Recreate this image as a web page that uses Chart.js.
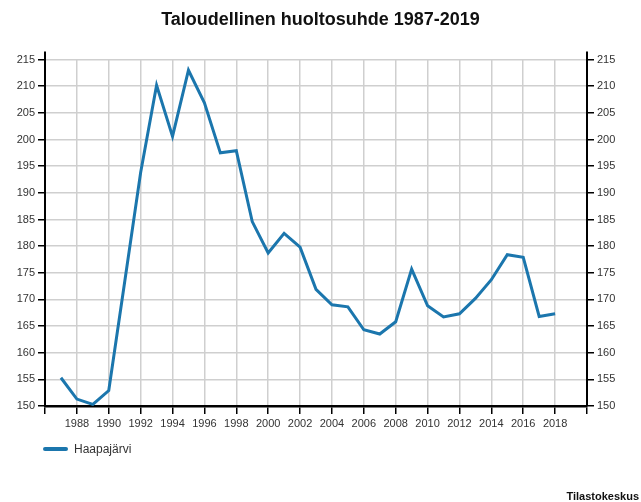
<!DOCTYPE html>
<html lang="fi">
<head>
    <meta charset="UTF-8" />
    <title>Taloudellinen huoltosuhde 1987-2019</title>
    <script src="https://cdn.jsdelivr.net/npm/chart.js@4.4.1/dist/chart.umd.min.js"></script>
    <style>
        * { margin: 0; padding: 0; box-sizing: border-box; }
        body {
            width: 641px;
            height: 502px;
            background: #ffffff;
            font-family: "Liberation Sans", Arial, sans-serif;
            overflow: hidden;
        }
        .wrap { position: relative; width: 641px; height: 502px; }
        #chart { position: absolute; left: 0; top: 0; }
        .legend {
            position: absolute;
            left: 43px;
            top: 442px;
            font-size: 12px;
            color: #333;
            display: flex;
            align-items: center;
        }
        .legend .swatch {
            width: 25px;
            height: 4px;
            background: #1b76ad;
            border-radius: 2px;
            margin-right: 6px;
        }
        .source {
            position: absolute;
            right: 2px;
            top: 490px;
            font-size: 11px;
            font-weight: bold;
            color: #111;
        }
    </style>
</head>
<body>
    <div class="wrap">
        <canvas id="chart" width="641" height="502"></canvas>
        <div class="legend"><span class="swatch"></span>Haapajärvi</div>
        <div class="source">Tilastokeskus</div>
    </div>
    <script>
        // vuodet ja arvot luettu kuvasta
        const years = [1987, 1988, 1989, 1990, 1991, 1992, 1993, 1994, 1995, 1996,
            1997, 1998, 1999, 2000, 2001, 2002, 2003, 2004, 2005, 2006,
            2007, 2008, 2009, 2010, 2011, 2012, 2013, 2014, 2015, 2016,
            2017, 2018];
        const values = [155.3, 151.3, 150.3, 152.9, 173.3, 193.8, 210.2, 200.6, 213.0, 206.9,
            197.5, 197.9, 184.6, 178.7, 182.4, 179.8, 171.9, 169.0, 168.6, 164.3,
            163.5, 165.8, 175.7, 168.8, 166.7, 167.3, 170.2, 173.7, 178.4, 177.9,
            166.8, 167.3];
        const seriesName = "Haapajärvi";
        const chartTitle = "Taloudellinen huoltosuhde 1987-2019";

        const tickFont = { family: "'Liberation Sans', Arial, sans-serif", size: 11 };
        const gridColor = "#cfcfcf";

        const yAxis = (position, width) => ({
            position: position,
            min: 150,
            max: 215,
            ticks: { stepSize: 5, color: "#333", font: tickFont, padding: 3 },
            grid: {
                color: gridColor,
                lineWidth: 1.5,
                tickColor: "#000",
                tickLength: 7,
                drawOnChartArea: position === "left",
            },
            border: { display: true, color: "#000", width: 2 },
            afterFit: (scale) => { scale.width = width; },
        });

        // lengthen the vertical axis lines a bit above the top
        const axisExtend = {
            id: "axisExtend",
            afterDraw(chart) {
                const { ctx, chartArea } = chart;
                ctx.save();
                ctx.strokeStyle = "#000";
                ctx.lineWidth = 2;
                ctx.beginPath();
                ctx.moveTo(chartArea.left, chartArea.top);
                ctx.lineTo(chartArea.left, chartArea.top - 8);
                ctx.moveTo(chartArea.right, chartArea.top);
                ctx.lineTo(chartArea.right, chartArea.top - 8);
                ctx.stroke();
                ctx.restore();
            },
        };

        new Chart(document.getElementById("chart"), {
            type: "line",
            data: {
                datasets: [{
                    label: seriesName,
                    data: years.map((y, i) => ({ x: y, y: values[i] })),
                    borderColor: "#1b76ad",
                    backgroundColor: "#1b76ad",
                    borderWidth: 3,
                    pointRadius: 0,
                    tension: 0,
                }],
            },
            options: {
                responsive: false,
                animation: false,
                layout: { padding: { left: 0, right: 0, top: 0, bottom: 66 } },
                plugins: {
                    legend: { display: false },
                    tooltip: { enabled: false },
                    title: {
                        display: true,
                        text: chartTitle,
                        color: "#111",
                        font: { family: "'Liberation Sans', Arial, sans-serif", size: 18, weight: "bold" },
                        padding: { top: 9, bottom: 29 },
                    },
                },
                scales: {
                    x: {
                        type: "linear",
                        min: 1986,
                        max: 2020,
                        ticks: {
                            stepSize: 2,
                            color: "#333",
                            font: tickFont,
                            padding: 3,
                            maxRotation: 0,
                            callback: (v) => (v === 1986 || v === 2020 ? "" : String(v)),
                        },
                        grid: { color: gridColor, lineWidth: 1.5, tickColor: "#000", tickLength: 8 },
                        border: { display: true, color: "#000", width: 2.5 },
                        afterFit: (scale) => { scale.height = 30; },
                    },
                    y: yAxis("left", 45),
                    y2: yAxis("right", 54),
                },
            },
            plugins: [axisExtend],
        });
    </script>
</body>
</html>
